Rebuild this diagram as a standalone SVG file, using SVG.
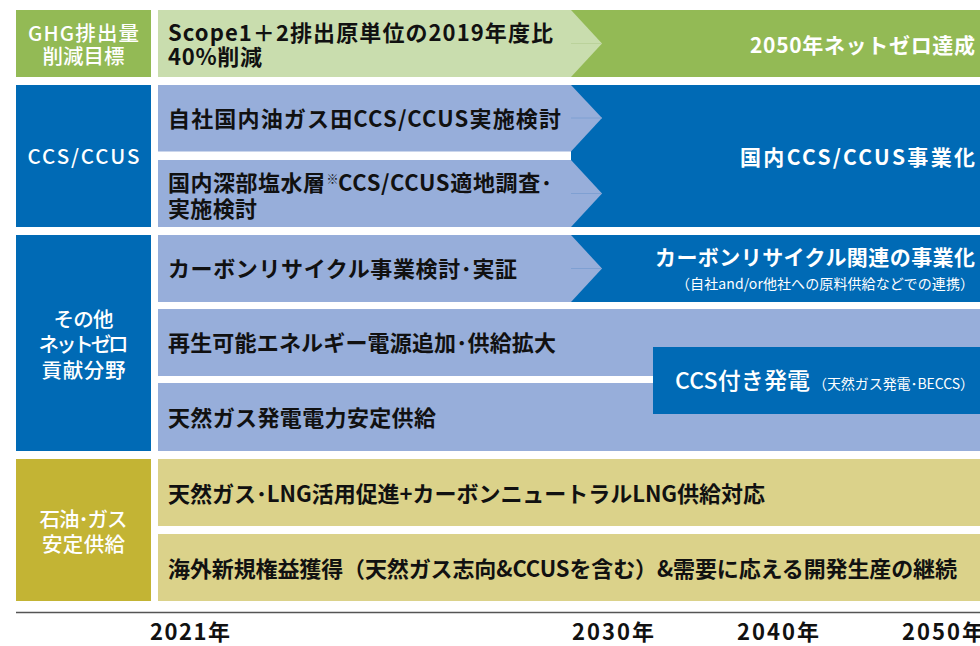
<svg xmlns="http://www.w3.org/2000/svg" width="980" height="646" viewBox="0 0 980 646">
<style>
text{font-family:"Noto Sans CJK JP","Noto Sans",sans-serif;}
.lbl{fill:#fff;font-size:20.5px;font-weight:500;text-anchor:middle;}
.txt{fill:#111;font-size:22px;font-weight:700;}
.wt{fill:#fff;font-size:21px;font-weight:700;text-anchor:end;}
.sm{fill:#fff;font-size:14px;font-weight:400;text-anchor:end;}
.yr{fill:#111;font-size:22px;font-weight:700;}
.dg{fill:#93BA55;}.lg{fill:#C9DDAE;}.db{fill:#006AB5;}.lb{fill:#97AEDA;}.ol{fill:#C3B434;}.tn{fill:#DBD28A;}
.tip{stroke-width:1;fill:none;}
</style>
<rect width="980" height="646" fill="#fff"/>

<g id="label-ghg"><rect class="dg" x="16" y="10" width="135" height="67"/>
<text class="lbl" x="83.5" y="41" textLength="111">GHG排出量</text><text class="lbl" x="83.5" y="64" textLength="82">削減目標</text></g>
<g id="label-ccs"><rect class="db" x="16" y="85" width="135" height="142"/>
<text class="lbl" x="83.5" y="164" font-size="22.5" textLength="112">CCS/CCUS</text></g>
<g id="label-other"><rect class="db" x="16" y="235" width="135" height="216"/>
<text class="lbl" x="83.5" y="327" textLength="60">その他</text><text class="lbl" x="83.5" y="352" textLength="90">ネットゼロ</text><text class="lbl" x="83.5" y="378" textLength="84">貢献分野</text></g>
<g id="label-oilgas"><rect class="ol" x="16" y="459" width="135" height="142"/>
<text class="lbl" x="83.5" y="527" textLength="88">石油･ガス</text><text class="lbl" x="83.5" y="552" textLength="83">安定供給</text></g>

<g id="goal-netzero"><rect class="dg" x="571" y="10" width="409" height="67"/>
<text class="wt" x="975" y="53" textLength="225">2050年ネットゼロ達成</text></g>
<g id="scope-reduction"><polygon class="lg" points="158,10 571,10 602,43.5 571,77 158,77"/>
<line class="tip" x1="571" y1="43.5" x2="602" y2="43.5" stroke="#BBD29B"/>
<text class="txt" x="168" y="41" textLength="385">Scope1＋2排出原単位の2019年度比</text><text class="txt" x="168" y="65" textLength="94">40%削減</text></g>

<g id="ccs-business"><rect class="db" x="571" y="85" width="409" height="142"/>
<text class="wt" x="975" y="165" font-size="22" textLength="235">国内CCS/CCUS事業化</text></g>
<g id="ccs-own"><polygon class="lb" points="158,85 571,85 602,118 571,151.5 158,151.5"/>
<line class="tip" x1="571" y1="118" x2="602" y2="118" stroke="#7FA0D2"/>
<text class="txt" x="168" y="127" textLength="393">自社国内油ガス田CCS/CCUS実施検討</text></g>
<g id="ccs-deep"><polygon class="lb" points="158,160 571,160 602,193.5 571,227 158,227"/>
<line class="tip" x1="571" y1="193.5" x2="602" y2="193.5" stroke="#7FA0D2"/>
<text class="txt" x="168" y="191" textLength="157">国内深部塩水層</text>
<text x="326.5" y="184" fill="#111" font-size="12" font-weight="400" textLength="10">※</text>
<text class="txt" x="338" y="191" textLength="214">CCS/CCUS適地調査･</text>
<text class="txt" x="168" y="217" textLength="89">実施検討</text></g>

<g id="cr-business"><rect class="db" x="571" y="235" width="409" height="67"/>
<text class="wt" x="975" y="265" textLength="320">カーボンリサイクル関連の事業化</text>
<text class="sm" x="974" y="289" textLength="298">（自社and/or他社への原料供給などでの連携）</text></g>
<g id="cr-study"><polygon class="lb" points="158,235 571,235 602,268.5 571,302 158,302"/>
<line class="tip" x1="571" y1="268.5" x2="602" y2="268.5" stroke="#7FA0D2"/>
<text class="txt" x="168" y="277" textLength="349">カーボンリサイクル事業検討･実証</text></g>
<g id="renewable"><rect class="lb" x="158" y="309" width="822" height="67"/>
<text class="txt" x="168" y="351" textLength="388">再生可能エネルギー電源追加･供給拡大</text></g>
<g id="gas-power"><rect class="lb" x="158" y="383" width="822" height="68"/>
<text class="txt" x="168" y="426" textLength="268">天然ガス発電電力安定供給</text></g>
<g id="ccs-power"><rect class="db" x="653" y="347" width="327" height="67"/>
<text x="675" y="389" fill="#fff" font-size="23" font-weight="500" textLength="135">CCS付き発電</text>
<text class="sm" x="974" y="389" font-size="14" textLength="161">（天然ガス発電･BECCS）</text></g>

<g id="lng"><rect class="tn" x="158" y="459" width="822" height="67"/>
<text class="txt" x="168" y="502" textLength="597">天然ガス･LNG活用促進+カーボンニュートラルLNG供給対応</text></g>
<g id="overseas"><rect class="tn" x="158" y="534" width="822" height="67"/>
<text class="txt" x="168" y="577" textLength="789">海外新規権益獲得（天然ガス志向&amp;CCUSを含む）&amp;需要に応える開発生産の継続</text></g>

<g id="connectors"><line x1="16" y1="612.5" x2="980" y2="612.5" stroke="#555" stroke-width="1.5"/></g>
<g id="axis-labels">
<text class="yr" x="150" y="640" textLength="80">2021年</text>
<text class="yr" x="572" y="640" textLength="82">2030年</text>
<text class="yr" x="737" y="640" textLength="82">2040年</text>
<text class="yr" x="902" y="640" textLength="82">2050年</text>
</g>
</svg>
